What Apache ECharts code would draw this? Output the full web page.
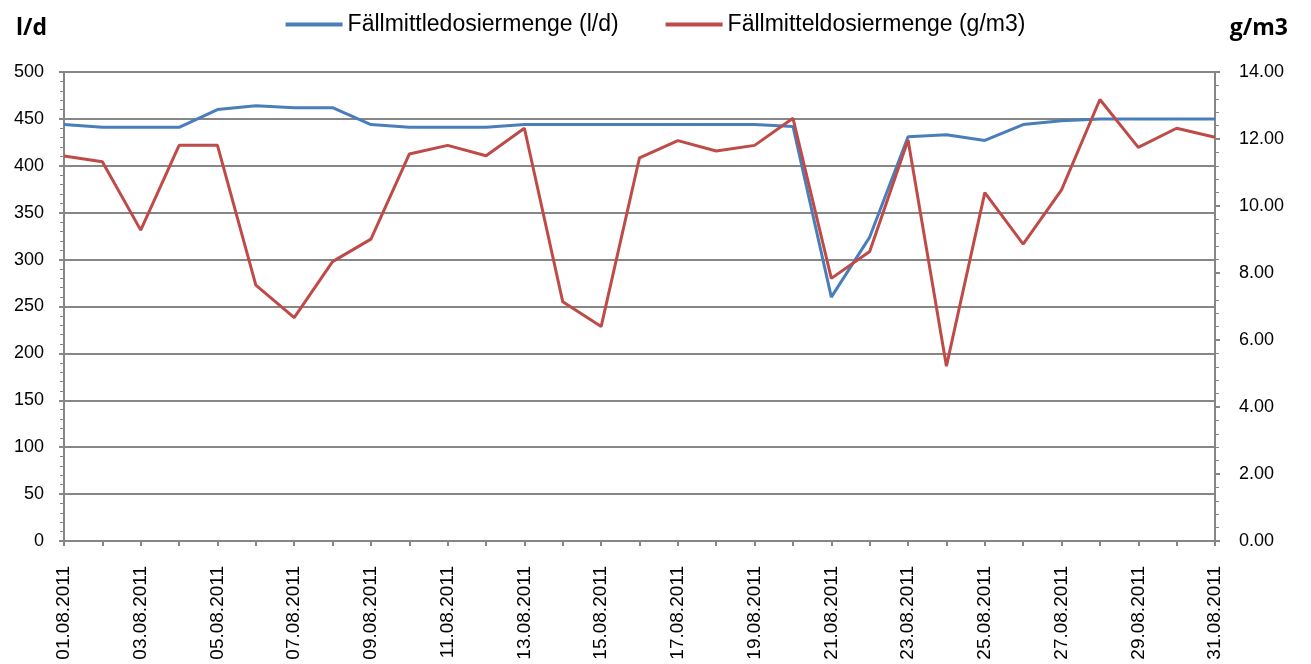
<!DOCTYPE html>
<html>
<head>
<meta charset="utf-8">
<script src="https://cdn.jsdelivr.net/npm/echarts@6/dist/echarts.min.js"></script>
<style>
  html, body { margin: 0; padding: 0; background: #fff; }
  #chart { width: 1311px; height: 664px; }
</style>
</head>
<body>
<div id="chart"></div>
<script>
// Tage im August 2011
const days = [];
for (let d = 1; d <= 31; d++) {
  days.push((d < 10 ? '0' + d : '' + d) + '.08.2011');
}

// Fällmitteldosiermenge (l/d)
const dosLd = [444, 441, 441, 441, 460, 464, 462, 462, 444, 441,
               441, 441, 444, 444, 444, 444, 444, 444, 444, 442,
               260, 324, 431, 433, 427, 444, 448, 450, 450, 450, 450];

// Fällmitteldosiermenge (g/m3)
const dosGm3 = [11.49, 11.32, 9.28, 11.81, 11.81, 7.64, 6.67, 8.34, 9.01, 11.55,
                11.81, 11.50, 12.32, 7.14, 6.40, 11.44, 11.95, 11.64, 11.81, 12.62,
                7.84, 8.64, 11.97, 5.22, 10.40, 8.86, 10.48, 13.18, 11.75, 12.32, 12.05];

const axisGray = '#868686';
const labelFont = 'Liberation Sans, Arial, sans-serif';
const boldFont = 'Open Sans, sans-serif';

const chart = echarts.init(document.getElementById('chart'));
chart.setOption({
  animation: false,
  textStyle: { fontFamily: labelFont },
  title: [
    {
      text: 'l/d', left: 11, top: 12,
      textStyle: { fontSize: 23, fontWeight: 'bold', color: '#000', fontFamily: boldFont }
    },
    {
      text: 'g/m3', right: 18, top: 12,
      textStyle: { fontSize: 23, fontWeight: 'bold', color: '#000', fontFamily: boldFont }
    }
  ],
  legend: {
    top: 8,
    left: 'center',
    itemWidth: 57,
    itemHeight: 4,
    itemGap: 47,
    icon: 'rect',
    textStyle: { fontSize: 23, color: '#000', fontFamily: labelFont },
    data: ['Fällmittledosiermenge (l/d)', 'Fällmitteldosiermenge (g/m3)']
  },
  grid: { left: 64, right: 96, top: 72, bottom: 123 },
  xAxis: {
    type: 'category',
    data: days,
    boundaryGap: false,
    axisLine: { lineStyle: { color: axisGray, width: 2 } },
    axisTick: { interval: 0, length: 5, lineStyle: { color: axisGray, width: 2 } },
    axisLabel: {
      interval: 1, rotate: 90, color: '#000', fontSize: 19, margin: 25
    },
    splitLine: { show: false }
  },
  yAxis: [
    {
      type: 'value', min: 0, max: 500, interval: 50,
      axisLine: { show: true, lineStyle: { color: axisGray, width: 2 } },
      axisTick: { show: true, length: 5, lineStyle: { color: axisGray, width: 2 } },
      minorTick: { show: true, splitNumber: 5, length: 4, lineStyle: { color: axisGray } },
      axisLabel: { color: '#000', fontSize: 18, margin: 20 },
      splitLine: { lineStyle: { color: axisGray, width: 2 } }
    },
    {
      type: 'value', min: 0, max: 14, interval: 2,
      axisLine: { show: true, lineStyle: { color: axisGray, width: 2 } },
      axisTick: { show: true, length: 5, lineStyle: { color: axisGray, width: 2 } },
      minorTick: { show: true, splitNumber: 5, length: 4, lineStyle: { color: axisGray } },
      axisLabel: { color: '#000', fontSize: 18, margin: 24, formatter: v => v.toFixed(2) },
      splitLine: { show: false }
    }
  ],
  series: [
    {
      name: 'Fällmittledosiermenge (l/d)',
      type: 'line',
      yAxisIndex: 0,
      data: dosLd,
      showSymbol: false,
      itemStyle: { color: '#4A7EBB' },
      lineStyle: { color: '#4A7EBB', width: 3 }
    },
    {
      name: 'Fällmitteldosiermenge (g/m3)',
      type: 'line',
      yAxisIndex: 1,
      data: dosGm3,
      showSymbol: false,
      itemStyle: { color: '#BE4B48' },
      lineStyle: { color: '#BE4B48', width: 3 }
    }
  ]
});
</script>
</body>
</html>
